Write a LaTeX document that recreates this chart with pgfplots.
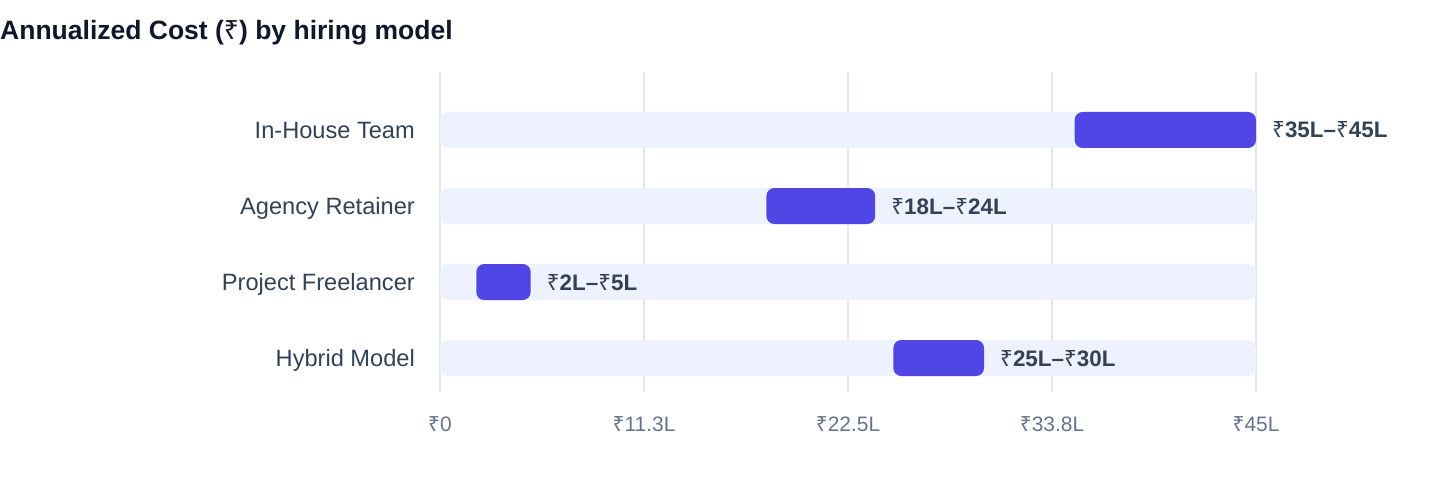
\documentclass[border=0pt]{standalone}
\usepackage{fontspec}
\setmainfont{Liberation Sans}
\newfontfamily\rupeefont{Noto Sans}
\newcommand{\rs}{{\rupeefont ₹}}
\usepackage{pgfplots}
\pgfplotsset{compat=1.18}
\definecolor{barc}{HTML}{4F46E5}
\definecolor{bgc}{HTML}{EEF2FF}
\definecolor{gridc}{HTML}{E2E8F0}
\definecolor{labc}{HTML}{334155}
\definecolor{tickc}{HTML}{64748B}
\definecolor{titc}{HTML}{0F172A}
\pgfplotsset{
  common/.style={
    anchor=south west, at={(440bp,92bp)},
    scale only axis, width=816bp, height=320bp,
    xmin=0, xmax=45, ymin=-0.763, ymax=3.447, y dir=reverse,
    clip=false,
  }
}
\begin{document}
\begin{tikzpicture}
\useasboundingbox (0,0) rectangle (1440bp,484bp);
\begin{axis}[common,
  axis line style={draw=none}, tick style={draw=none}, major tick length=0pt,
  xtick={0,11.25,22.5,33.75,45},
  xticklabels={\rs0,\rs11.3L,\rs22.5L,\rs33.8L,\rs45L},
  ytick={0,1,2,3},
  yticklabels={In-House Team,Agency Retainer,Project Freelancer,Hybrid Model},
  xmajorgrids, major grid style={draw=gridc, line width=1.5bp},
  xticklabel style={anchor=base, inner sep=0pt, yshift=-39.5bp, font=\fontsize{21}{21}\selectfont, text=tickc},
  yticklabel style={anchor=base east, inner sep=0pt, xshift=-25bp, yshift=-8.4bp, font=\fontsize{23.7}{23.7}\selectfont, text=labc},
]
\addplot[xbar, bar width=36bp, fill=bgc, draw=none, rounded corners=8bp] coordinates {(45,0) (45,1) (45,2) (45,3)};
\addplot[draw=none, mark=none,
  nodes near coords, point meta=explicit symbolic,
  every node near coord/.append style={anchor=base west, inner sep=0pt, xshift=16bp, yshift=-8bp, font=\bfseries\fontsize{22.5}{22.5}\selectfont, text=labc}]
  coordinates {(45,0) [\rs35L--\rs45L] (24,1) [\rs18L--\rs24L] (5,2) [\rs2L--\rs5L] (30,3) [\rs25L--\rs30L]};
\end{axis}
\begin{axis}[common, hide axis,
  xbar stacked, bar width=36bp,
]
\addplot[draw=none, fill=none, forget plot] coordinates {(35,0) (18,1) (2,2) (25,3)};
\addplot[fill=barc, draw=none, rounded corners=8bp]
  coordinates {(10,0) (6,1) (3,2) (5,3)};
\end{axis}
\node[anchor=base west, inner sep=0pt, font=\bfseries\fontsize{26.6}{26.6}\selectfont, text=titc] at (0,444.5bp) {Annualized Cost (\rs) by hiring model};
\end{tikzpicture}
\end{document}
